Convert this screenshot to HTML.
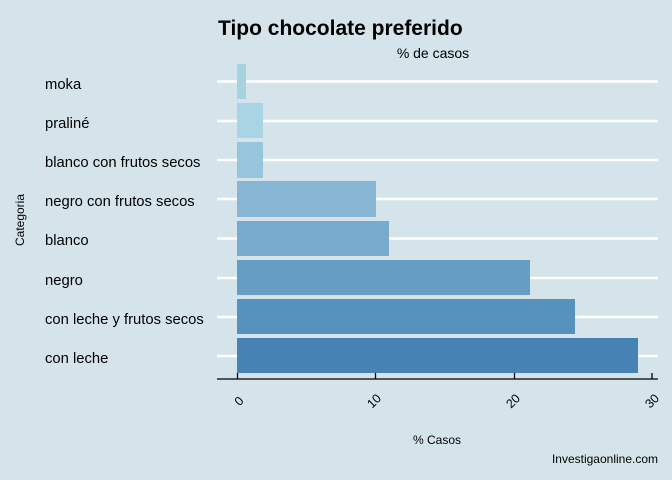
<!DOCTYPE html><html><head><style>body{margin:0;background:#d5e4eb}svg{display:block;font-family:"Liberation Sans",sans-serif}</style></head><body>
<svg width="672" height="480" xmlns="http://www.w3.org/2000/svg">
<rect width="672" height="480" fill="#d5e4eb"/>
<text x="218" y="35" font-size="21" font-weight="bold">Tipo chocolate preferido</text>
<text x="433" y="58" font-size="14" text-anchor="middle">% de casos</text>
<g stroke="#fff" stroke-width="2.5">
<line x1="217" x2="658" y1="81.5" y2="81.5"/><line x1="217" x2="658" y1="121" y2="121"/><line x1="217" x2="658" y1="160" y2="160"/><line x1="217" x2="658" y1="199" y2="199"/><line x1="217" x2="658" y1="238.5" y2="238.5"/><line x1="217" x2="658" y1="278" y2="278"/><line x1="217" x2="658" y1="317" y2="317"/><line x1="217" x2="658" y1="356" y2="356"/>
</g>
<rect x="237" y="64" width="9" height="35" fill="#a7d3e0"/>
<rect x="237" y="103" width="26" height="35" fill="#a9d4e3"/>
<rect x="237" y="142" width="26" height="36" fill="#98c5dc"/>
<rect x="237" y="181" width="139" height="36" fill="#86b6d4"/>
<rect x="237" y="221" width="152" height="35" fill="#78aacb"/>
<rect x="237" y="260" width="293" height="35" fill="#669dc4"/>
<rect x="237" y="299" width="338" height="35" fill="#5791be"/>
<rect x="237" y="338" width="401" height="35" fill="#4682b4"/>
<g font-size="14.8" fill="#000">
<text x="45" y="89">moka</text><text x="45" y="128">praliné</text><text x="45" y="167">blanco con frutos secos</text><text x="45" y="206">negro con frutos secos</text><text x="45" y="245">blanco</text><text x="45" y="285">negro</text><text x="45" y="324">con leche y frutos secos</text><text x="45" y="363">con leche</text>
</g>
<text transform="translate(24,220) rotate(-90)" font-size="12" text-anchor="middle">Categoria</text>
<line x1="217" x2="658" y1="379" y2="379" stroke="#000" stroke-width="1.3"/>
<g stroke="#000" stroke-width="1.3"><line x1="237.5" x2="237.5" y1="373" y2="379"/><line x1="375.5" x2="375.5" y1="373" y2="379"/><line x1="514.5" x2="514.5" y1="373" y2="379"/><line x1="652" x2="652" y1="373" y2="379"/></g>
<g font-size="12.5">
<text transform="translate(242,404) rotate(-45)" text-anchor="middle">0</text>
<text transform="translate(377,404) rotate(-45)" text-anchor="middle">10</text>
<text transform="translate(516,404) rotate(-45)" text-anchor="middle">20</text>
<text transform="translate(655,404) rotate(-45)" text-anchor="middle">30</text>
</g>
<text x="437" y="444" font-size="12" text-anchor="middle">% Casos</text>
<text x="658" y="463" font-size="12" text-anchor="end">Investigaonline.com</text>
</svg></body></html>
